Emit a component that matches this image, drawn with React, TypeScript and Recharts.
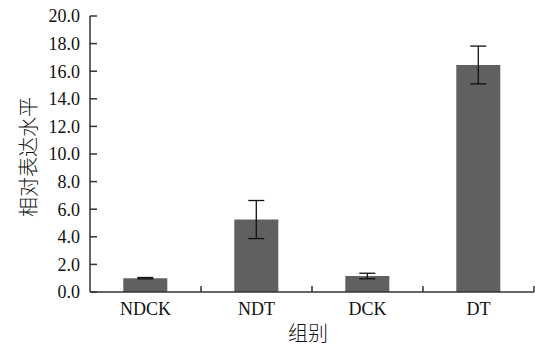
import React from 'react';
import { BarChart, Bar, XAxis, YAxis, ErrorBar, Label } from 'recharts';

const categories = ['NDCK', 'NDT', 'DCK', 'DT'];
const values = [1.0, 5.25, 1.16, 16.45];
const errors = [0.05, 1.38, 0.2, 1.37];
const yTicks = [0, 2, 4, 6, 8, 10, 12, 14, 16, 18, 20];

const data = categories.map((c, i) => ({ name: c, value: values[i], err: errors[i] }));

const serif = 'Liberation Serif';
const cjk = 'Noto Sans CJK SC';

const XTick = (props: any) => {
  const { x, y, payload, width } = props;
  const band = width / categories.length;
  const bx = x + band / 2;
  return (
    <g>
      <text x={x} y={y + 23} textAnchor="middle" style={{ fontFamily: serif, fontSize: 18 }} fill="#111">
        {payload.value}
      </text>
      <line x1={bx} x2={bx} y1={y} y2={y - 6} stroke="#333" strokeWidth={1.5} />
    </g>
  );
};

const YTick = (props: any) => {
  const { x, y, payload } = props;
  return (
    <text x={x} y={y} dy="0.35em" textAnchor="end" style={{ fontFamily: serif, fontSize: 18 }} fill="#111">
      {Number(payload.value).toFixed(1)}
    </text>
  );
};

export default function App() {
  return (
    <div style={{ position: 'absolute', left: 0, top: 0, background: '#fff' }}>
      <BarChart
        width={535}
        height={347}
        data={data}
        margin={{ top: 16, right: 1, bottom: 0, left: 0 }}
        barCategoryGap="30%"
      >
        <XAxis
          dataKey="name"
          height={55}
          tickLine={false}
          tickSize={0}
          tickMargin={0}
          tick={<XTick />}
          axisLine={{ stroke: '#333', strokeWidth: 1.5 }}
          interval={0}
        >
          <Label
            content={({ viewBox }: any) => (
              <text
                x={viewBox.x + viewBox.width / 2 - 4}
                y={viewBox.y + 49}
                textAnchor="middle"
                style={{ fontFamily: cjk, fontSize: 20, fontWeight: 300 }}
                fill="#111"
              >
                组别
              </text>
            )}
          />
        </XAxis>
        <YAxis
          width={90}
          domain={[0, 20]}
          ticks={yTicks}
          interval={0}
          tickSize={-7}
          tickMargin={17}
          tick={<YTick />}
          tickLine={{ stroke: '#333', strokeWidth: 1.5 }}
          axisLine={{ stroke: '#333', strokeWidth: 1.5 }}
        >
          <Label
            content={({ viewBox }: any) => {
              const cx = viewBox.x + 27;
              const cy = viewBox.y + viewBox.height / 2 + 3;
              return (
                <text
                  x={cx}
                  y={cy}
                  transform={`rotate(-90, ${cx}, ${cy})`}
                  textAnchor="middle"
                  dominantBaseline="central"
                  style={{ fontFamily: cjk, fontSize: 20, fontWeight: 300 }}
                  fill="#111"
                >
                  相对表达水平
                </text>
              );
            }}
          />
        </YAxis>
        <Bar dataKey="value" fill="#606060" isAnimationActive={false}>
          <ErrorBar dataKey="err" width={8} stroke="#111" strokeWidth={1.3} isAnimationActive={false} />
        </Bar>
      </BarChart>
    </div>
  );
}
